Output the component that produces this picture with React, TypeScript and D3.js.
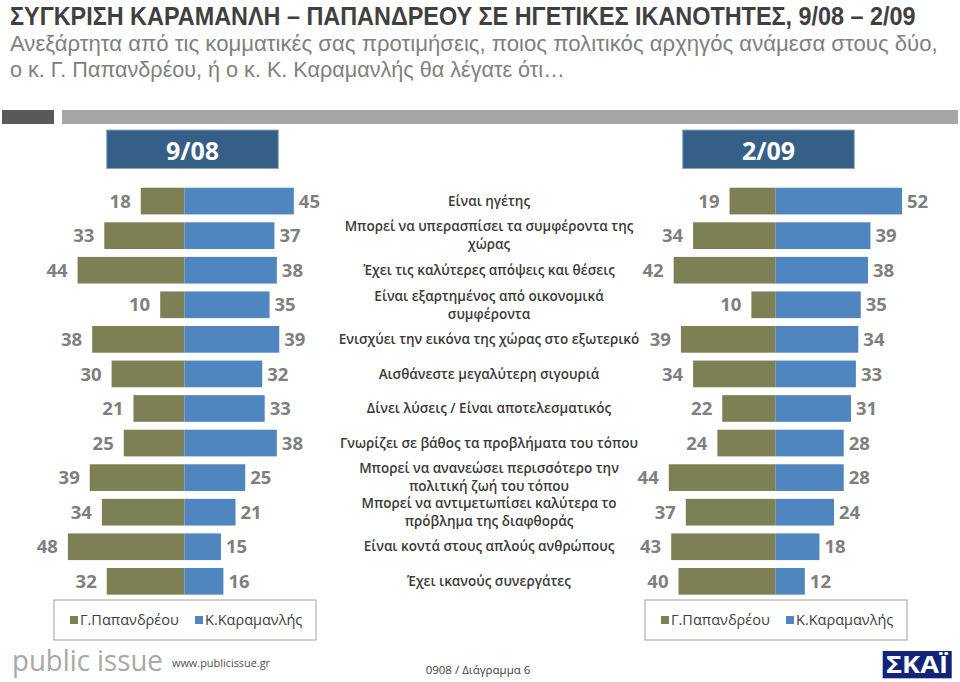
import React, { useLayoutEffect, useRef } from "react";
import * as d3 from "d3";

const categories: string[][] = [
  ["Είναι ηγέτης"],
  ["Μπορεί να υπερασπίσει τα συμφέροντα της", "χώρας"],
  ["Έχει τις καλύτερες απόψεις και θέσεις"],
  ["Είναι εξαρτημένος από οικονομικά", "συμφέροντα"],
  ["Ενισχύει την εικόνα της χώρας στο εξωτερικό"],
  ["Αισθάνεστε μεγαλύτερη σιγουριά"],
  ["Δίνει λύσεις / Είναι αποτελεσματικός"],
  ["Γνωρίζει σε βάθος τα προβλήματα του τόπου"],
  ["Μπορεί να ανανεώσει περισσότερο την", "πολιτική ζωή του τόπου"],
  ["Μπορεί να αντιμετωπίσει καλύτερα το", "πρόβλημα της διαφθοράς"],
  ["Είναι κοντά στους απλούς ανθρώπους"],
  ["Έχει ικανούς συνεργάτες"],
];

const papandreou0908 = [18, 33, 44, 10, 38, 30, 21, 25, 39, 34, 48, 32];
const karamanlis0908 = [45, 37, 38, 35, 39, 32, 33, 38, 25, 21, 15, 16];
const papandreou0209 = [19, 34, 42, 10, 39, 34, 22, 24, 44, 37, 43, 40];
const karamanlis0209 = [52, 39, 38, 35, 34, 33, 31, 28, 28, 24, 18, 12];

const periods = ["9/08", "2/09"];
const seriesNames = ["Γ.Παπανδρέου", "Κ.Καραμανλής"];

const title = "ΣΥΓΚΡΙΣΗ ΚΑΡΑΜΑΝΛΗ – ΠΑΠΑΝΔΡΕΟΥ ΣΕ ΗΓΕΤΙΚΕΣ ΙΚΑΝΟΤΗΤΕΣ, 9/08 – 2/09";
const subtitle1 = "Ανεξάρτητα από τις κομματικές σας προτιμήσεις, ποιος πολιτικός αρχηγός ανάμεσα στους δύο,";
const subtitle2 = "ο κ. Γ. Παπανδρέου, ή ο κ. Κ. Καραμανλής θα λέγατε ότι…";

const OLIVE = "#7d8055";
const BLUE = "#4f86bf";
const FONT = "'Open Sans', 'Noto Sans', sans-serif";
const HEAD = "'Liberation Sans', Arial, sans-serif";

const W = 960;
const H = 682;

type FitProps = {
  x: number;
  y: number;
  width: number;
  anchor?: "start" | "middle" | "end";
  children: string;
  [k: string]: any;
};

// Text squeezed horizontally (via a transform) so that it fills a given width
function FitText({ x, y, width, anchor = "start", children, ...rest }: FitProps) {
  const ref = useRef<SVGTextElement>(null);
  useLayoutEffect(() => {
    const el = ref.current;
    if (!el) return;
    el.removeAttribute("transform");
    const w = el.getBBox().width;
    if (w > 0) {
      const k = width / w;
      el.setAttribute("transform", `translate(${x},0) scale(${k},1) translate(${-x},0)`);
    }
  }, [x, width, children]);
  return (
    <text ref={ref} x={x} y={y} textAnchor={anchor} {...rest}>
      {children}
    </text>
  );
}

export default function App() {
  const idx = categories.map((_, i) => String(i));
  const y = d3
    .scaleBand<string>()
    .domain(idx)
    .range([183.8, 598.6])
    .paddingInner(0.228)
    .paddingOuter(0.114);
  const x = d3.scaleLinear().domain([0, 100]).range([0, 243]);

  const panels = [
    { center: 184.5, pap: papandreou0908, kar: karamanlis0908, box: 106.7, legend: 54, legendW: 262, period: periods[0] },
    { center: 775.7, pap: papandreou0209, kar: karamanlis0209, box: 682.7, legend: 645, legendW: 262, period: periods[1] },
  ];

  const bh = y.bandwidth();

  return (
    <svg width={W} height={H} style={{ position: "absolute", left: 0, top: 0 }} fontFamily={FONT}>
      <rect x={0} y={0} width={W} height={H} fill="#ffffff" />
      {/* header */}
      <FitText x={10} y={25.5} width={906} fontSize={25} fontWeight={700} fill="#404040" fontFamily={HEAD}>
        {title}
      </FitText>
      <FitText x={10} y={51} width={928} fontSize={22} fill="#808080" fontFamily={HEAD}>
        {subtitle1}
      </FitText>
      <FitText x={10} y={77} width={555} fontSize={22} fill="#808080" fontFamily={HEAD}>
        {subtitle2}
      </FitText>
      <rect x={2} y={110} width={52} height={14} fill="#595959" />
      <rect x={62} y={110} width={896} height={14} fill="#a6a6a6" />

      {panels.map((p, pi) => (
        <g key={pi}>
          <rect x={p.box} y={130} width={171.6} height={38.5} fill="#365f88" stroke="#8aa5c4" strokeWidth={1} />
          <text x={p.box + 85.8} y={149.5} fontSize={25} fontWeight={700} fill="#ffffff" textAnchor="middle" dominantBaseline="central">
            {p.period}
          </text>
          {p.pap.map((v, i) => (
            <rect key={"p" + i} x={p.center - x(v)} y={y(String(i))} width={x(v)} height={bh} fill={OLIVE} />
          ))}
          {p.kar.map((v, i) => (
            <rect key={"k" + i} x={p.center} y={y(String(i))} width={x(v)} height={bh} fill={BLUE} />
          ))}
          {p.pap.map((v, i) => (
            <text
              key={"pl" + i}
              x={p.center - x(v) - 10}
              y={(y(String(i)) as number) + bh / 2}
              dy="0.36em"
              textAnchor="end"
              fontSize={18.5}
              fontWeight={700}
              fill="#7f7f7f"
            >
              {v}
            </text>
          ))}
          {p.kar.map((v, i) => (
            <text
              key={"kl" + i}
              x={p.center + x(v) + 5}
              y={(y(String(i)) as number) + bh / 2}
              dy="0.36em"
              textAnchor="start"
              fontSize={18.5}
              fontWeight={700}
              fill="#7f7f7f"
            >
              {v}
            </text>
          ))}
          {/* legend */}
          <rect x={p.legend} y={600} width={p.legendW} height={40} fill="#ffffff" stroke="#a0a0a0" strokeWidth={1} />
          <rect x={p.legend + 16} y={616} width={8} height={8} fill={OLIVE} />
          <text x={p.legend + 26} y={620} dy="0.35em" fontSize={14.5} fill="#404040">
            {seriesNames[0]}
          </text>
          <rect x={p.legend + 141} y={616} width={8} height={8} fill={BLUE} />
          <text x={p.legend + 151} y={620} dy="0.35em" fontSize={14.5} fill="#404040">
            {seriesNames[1]}
          </text>
        </g>
      ))}

      {/* category labels */}
      {categories.map((lines, i) => {
        const cy = (y(String(i)) as number) + bh / 2;
        const lh = 18;
        const start = cy - ((lines.length - 1) * lh) / 2;
        return (
          <text key={"c" + i} textAnchor="middle" fontSize={13.5} fontWeight={600} fill="#3a3a3a">
            {lines.map((l, j) => (
              <tspan key={j} x={489} y={start + j * lh} dy="0.35em">
                {l}
              </tspan>
            ))}
          </text>
        );
      })}

      {/* footer */}
      <FitText x={12} y={671} width={151} fontSize={30} fill="#a8a8a8">
        public issue
      </FitText>
      <FitText x={172} y={667} width={99} fontSize={10.5} fill="#505050">
        www.publicissue.gr
      </FitText>
      <text x={478} y={674} fontSize={11.5} fill="#404040" textAnchor="middle">
        0908 / Διάγραμμα 6
      </text>
      <rect x={882.7} y={651} width={69} height={27.3} fill="#14237a" />
      <FitText x={886} y={673.5} width={62} fontSize={24} fontWeight={700} fill="#ffffff">
        ΣΚΑΪ
      </FitText>
    </svg>
  );
}
